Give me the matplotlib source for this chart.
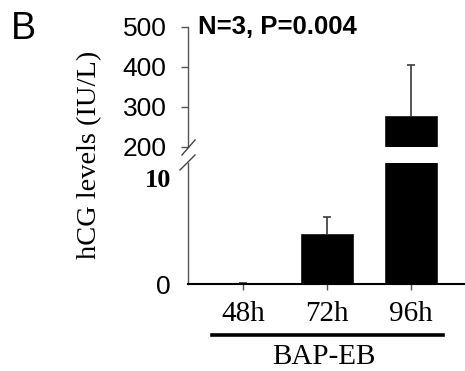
import matplotlib
matplotlib.use("Agg")
import matplotlib.pyplot as plt
from matplotlib.lines import Line2D

categories = ["48h", "72h", "96h"]
means = [0.05, 4.7, 278]
errors = [0.05, 1.6, 126]
upper_ticks = [200, 300, 400, 500]
lower_ticks = [0, 10]
group_label = "BAP-EB"
ylabel = "hCG levels (IU/L)"
stat_text = "N=3, P=0.004"
panel = "B"

W, H = 465, 371
fig = plt.figure(figsize=(W / 100, H / 100), dpi=100)

def fx(px):
    return px / W

def fy(py):
    return 1 - py / H

left = fx(187.5)
right = 1.0
ax_lo = fig.add_axes([left, fy(284), right - left, fy(163) - fy(284)])
ax_hi = fig.add_axes([left, fy(147), right - left, fy(26.5) - fy(147)])

x = list(range(len(categories)))
spine_col = "#555555"
err_col = "#3a3a3a"
tops = [m + e for m, e in zip(means, errors)]

for ax in (ax_lo, ax_hi):
    ax.bar(x, means, width=0.62, color="black", edgecolor="#222222", linewidth=0.6)
    ax.vlines(x, means, tops, colors=err_col, linewidth=1.2)
    ax.plot(x, tops, linestyle="none", marker="_", markersize=6, markeredgewidth=1.2,
            color=err_col)
    ax.set_xlim(-0.66, 2.64)
    ax.spines["top"].set_visible(False)
    ax.spines["right"].set_visible(False)
    ax.spines["left"].set_color(spine_col)
    ax.spines["left"].set_linewidth(1.0)

ax_hi.set_ylim(200, 500)
ax_hi.set_yticks(upper_ticks)
ax_hi.set_yticklabels([str(t) for t in upper_ticks], fontsize=19, family="Liberation Sans")
ax_hi.tick_params(axis="y", length=5, width=1, color=spine_col, pad=10)
ax_hi.spines["bottom"].set_visible(False)
ax_hi.set_xticks([])

ax_lo.set_ylim(0, 11.4)
ax_lo.set_yticks(lower_ticks)
ax_lo.set_yticklabels(["0", "10"], fontsize=19)
lbls = ax_lo.get_yticklabels()
lbls[0].set_family("Liberation Sans")
lbls[1].set_family("Liberation Serif")
lbls[1].set_fontweight("bold")
ax_lo.tick_params(axis="y", length=0, pad=12)
ax_lo.spines["bottom"].set_color("black")
ax_lo.spines["bottom"].set_linewidth(1.5)
ax_lo.set_xticks(x)
ax_lo.set_xticklabels(categories, fontsize=21, family="Liberation Serif")
ax_lo.tick_params(axis="x", length=4, width=1, color="#555555", pad=8)

# axis break marks
for (x0, y0, x1, y1) in [(182, 155, 195, 140), (180, 170, 195, 155)]:
    fig.add_artist(Line2D([fx(x0), fx(x1)], [fy(y0), fy(y1)], transform=fig.transFigure,
                          color="#444444", lw=1.0))

# group line and label
fig.add_artist(Line2D([fx(212), fx(443)], [fy(335), fy(335)], transform=fig.transFigure,
                      color="black", lw=2.6))
fig.text(fx(324), fy(357), group_label, ha="center", va="center", fontsize=21,
         family="Liberation Serif")

fig.text(fx(90), fy(155), ylabel, rotation=90, ha="center", va="center", fontsize=20.5,
         family="Liberation Serif")
fig.text(fx(198), fy(27), stat_text, ha="left", va="center", fontsize=18.5,
         fontweight="bold", family="Liberation Sans")
fig.text(fx(11), fy(29), panel, ha="left", va="center", fontsize=27, family="Liberation Sans")

fig.savefig("out.png", dpi=100)
